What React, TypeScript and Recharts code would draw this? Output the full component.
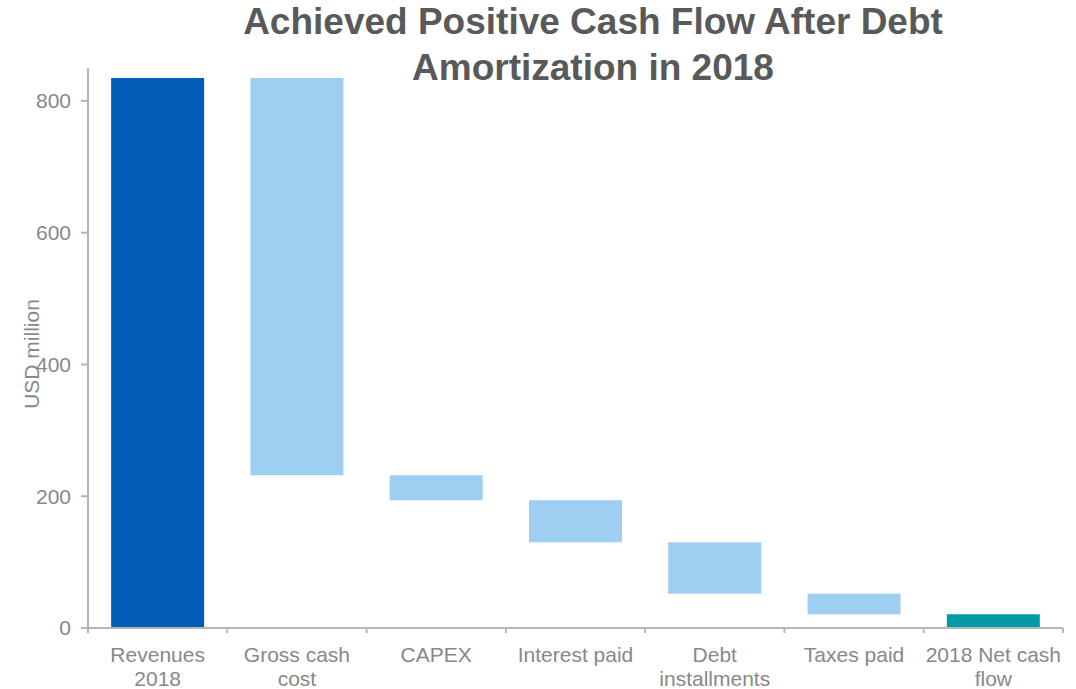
import { BarChart, Bar, XAxis, YAxis, Cell, Label } from 'recharts'

const categories = ['Revenues\n2018', 'Gross cash\ncost', 'CAPEX', 'Interest paid', 'Debt\ninstallments', 'Taxes paid', '2018 Net cash\nflow']
const revenues = 835
const deductions = [603, 38, 64, 78, 31]
const yTicks = [0, 200, 400, 600, 800]

const DARK = '#015DB8'
const LIGHT = '#9ECFF3'
const TEAL = '#009CA6'
const AXIS = '#b5b5b5'
const TEXT = '#888888'

// build the waterfall: invisible base + visible step
const rows: { name: string; base: number; value: number; color: string }[] = []
let level = revenues
rows.push({ name: categories[0], base: 0, value: revenues, color: DARK })
deductions.forEach((d, i) => {
  level -= d
  rows.push({ name: categories[i + 1], base: level, value: d, color: LIGHT })
})
rows.push({ name: categories[6], base: 0, value: level, color: TEAL })

function CatTick(props: any) {
  const { x, y, payload, index } = props
  const half = payload?.offset ?? 69.6
  const lines = String(payload.value).split('\n')
  return (
    <g>
      <line x1={x - half} x2={x - half} y1={y - 8} y2={y - 3} stroke={AXIS} strokeWidth={2} />
      {index === categories.length - 1 && (
        <line x1={x + half} x2={x + half} y1={y - 8} y2={y - 3} stroke={AXIS} strokeWidth={2} />
      )}
      <text x={x} y={y} textAnchor="middle" fill={TEXT} fontSize={21} fontFamily="Liberation Sans, Arial, sans-serif">
        {lines.map((l, i) => (
          <tspan key={i} x={x} dy={i === 0 ? 26 : 24}>{l}</tspan>
        ))}
      </text>
    </g>
  )
}

function YLabel(props: any) {
  const vb = props.viewBox || { x: 0, y: 68, width: 88, height: 560 }
  const cx = vb.x + 39
  const cy = vb.y + vb.height / 2 + 6
  return (
    <text x={cx} y={cy} transform={`rotate(-90 ${cx} ${cy})`} textAnchor="middle" fill={TEXT} fontSize={21}>
      USD million
    </text>
  )
}

export default function App() {
  return (
    <div style={{ position: 'absolute', left: 0, top: 0, width: 1076, height: 689, background: '#fff', fontFamily: 'Liberation Sans, Arial, sans-serif' }}>
      <BarChart
        width={1076}
        height={689}
        data={rows}
        margin={{ top: 68, right: 13, bottom: 6, left: 0 }}
        barCategoryGap="16.6%"
      >
        <XAxis
          dataKey="name"
          interval={0}
          height={55}
          tickLine={false}
          axisLine={{ stroke: AXIS, strokeWidth: 2 }}
          tick={<CatTick />}
        />
        <YAxis
          width={88}
          domain={[0, 850]}
          ticks={yTicks}
          tickSize={7}
          tickMargin={10}
          axisLine={{ stroke: AXIS, strokeWidth: 2 }}
          tickLine={{ stroke: AXIS, strokeWidth: 2 }}
          tick={{ fill: TEXT, fontSize: 21 }}
        >
          <Label content={<YLabel />} />
        </YAxis>
        <Bar dataKey="base" stackId="w" fill="transparent" isAnimationActive={false} />
        <Bar dataKey="value" stackId="w" isAnimationActive={false}>
          {rows.map((r, i) => (
            <Cell key={i} fill={r.color} />
          ))}
        </Bar>
      </BarChart>
      <div
        style={{
          position: 'absolute',
          left: 93,
          top: -1,
          width: 1000,
          textAlign: 'center',
          fontSize: 37,
          lineHeight: '46px',
          fontWeight: 'bold',
          color: '#595959',
          pointerEvents: 'none',
        }}
      >
        Achieved Positive Cash Flow After Debt
        <br />
        Amortization in 2018
      </div>
    </div>
  )
}
